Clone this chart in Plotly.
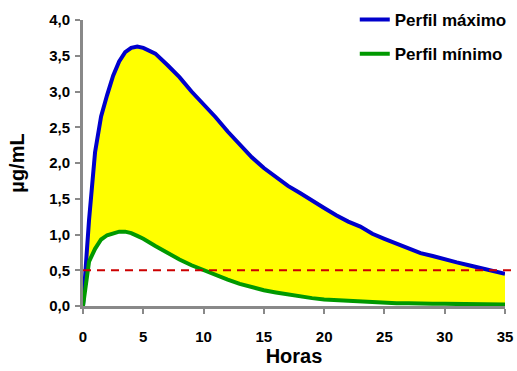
import plotly.graph_objects as go

hours = [0, 0.5, 1, 1.5, 2, 2.5, 3, 3.5, 4, 4.5, 5, 6, 7, 8, 9, 10, 11, 12, 13, 14, 15,
         16, 17, 18, 19, 20, 21, 22, 23, 24, 25, 26, 27, 28, 29, 30, 31, 32, 33, 34, 35]
perfil_maximo = [0, 1.20, 2.15, 2.65, 2.95, 3.22, 3.42, 3.55, 3.61, 3.63, 3.61, 3.53, 3.37, 3.20,
                 3.00, 2.83, 2.64, 2.44, 2.26, 2.08, 1.93, 1.80, 1.68, 1.58, 1.47, 1.37, 1.27,
                 1.18, 1.11, 1.01, 0.94, 0.87, 0.80, 0.74, 0.70, 0.65, 0.61, 0.57, 0.53, 0.50, 0.45]
perfil_minimo = [0, 0.62, 0.80, 0.93, 0.99, 1.02, 1.04, 1.04, 1.02, 0.98, 0.94, 0.84, 0.74, 0.65,
                 0.57, 0.50, 0.43, 0.37, 0.31, 0.26, 0.22, 0.19, 0.16, 0.13, 0.11, 0.09, 0.08,
                 0.07, 0.06, 0.05, 0.05, 0.04, 0.04, 0.03, 0.03, 0.03, 0.03, 0.02, 0.02, 0.02, 0.02]
umbral = 0.5
x_ticks = [0, 5, 10, 15, 20, 25, 30, 35]
y_ticks = [0, 0.5, 1, 1.5, 2, 2.5, 3, 3.5, 4]

fig = go.Figure()
# yellow band between the two profiles
fig.add_trace(go.Scatter(x=hours, y=perfil_minimo, mode="lines", showlegend=False,
                         line=dict(width=0), hoverinfo="skip"))
fig.add_trace(go.Scatter(x=hours, y=perfil_maximo, mode="lines", showlegend=False,
                         line=dict(width=0), fill="tonexty", fillcolor="#FFFF00",
                         hoverinfo="skip"))
# profile lines
fig.add_trace(go.Scatter(x=hours, y=perfil_maximo, mode="lines", name="Perfil máximo",
                         line=dict(color="#0000CC", width=4), legendgroup="a"))
fig.add_trace(go.Scatter(x=hours, y=perfil_minimo, mode="lines", name="Perfil mínimo",
                         line=dict(color="#009900", width=4), legendgroup="b"))

fig.add_shape(type="line", xref="paper", yref="y", x0=0, x1=1.02, y0=umbral, y1=umbral,
              line=dict(color="#CC0000", width=2, dash="8px,6px"), layer="above")

axis_color = "#898989"
font_family = "Liberation Sans, Arial, sans-serif"
fig.update_layout(
    width=517, height=371,
    margin=dict(l=83, r=12, t=20, b=65, autoexpand=False),
    paper_bgcolor="white", plot_bgcolor="white",
    separators=",.",
    font=dict(family=font_family, color="black"),
    showlegend=True,
    legend=dict(x=0.644, y=1.063, xanchor="left", yanchor="top",
                traceorder="grouped", tracegroupgap=9,
                font=dict(size=17, family=font_family, weight="bold"),
                bgcolor="rgba(0,0,0,0)"),
    xaxis=dict(range=[0, 35], tickvals=x_ticks, showgrid=False, zeroline=False,
               showline=True, linecolor=axis_color, linewidth=3, automargin=False,
               ticks="outside", ticklen=5, tickwidth=2, tickcolor=axis_color,
               ticklabelstandoff=10,
               tickfont=dict(size=15, weight="bold"),
               title=dict(text="Horas", font=dict(size=20, weight="bold"), standoff=0)),
    yaxis=dict(range=[0, 4], tickvals=y_ticks, tickformat=".1f", showgrid=False,
               zeroline=False, showline=True, linecolor=axis_color, linewidth=3,
               automargin=False,
               ticks="outside", ticklen=5, tickwidth=2, tickcolor=axis_color,
               ticklabelstandoff=2,
               tickfont=dict(size=15, weight="bold"),
               title=dict(text="µg/mL", font=dict(size=20, weight="bold"), standoff=20)),
)

fig.write_html("out.html", config={"displayModeBar": False},
               post_script="document.body.style.margin='0';")
